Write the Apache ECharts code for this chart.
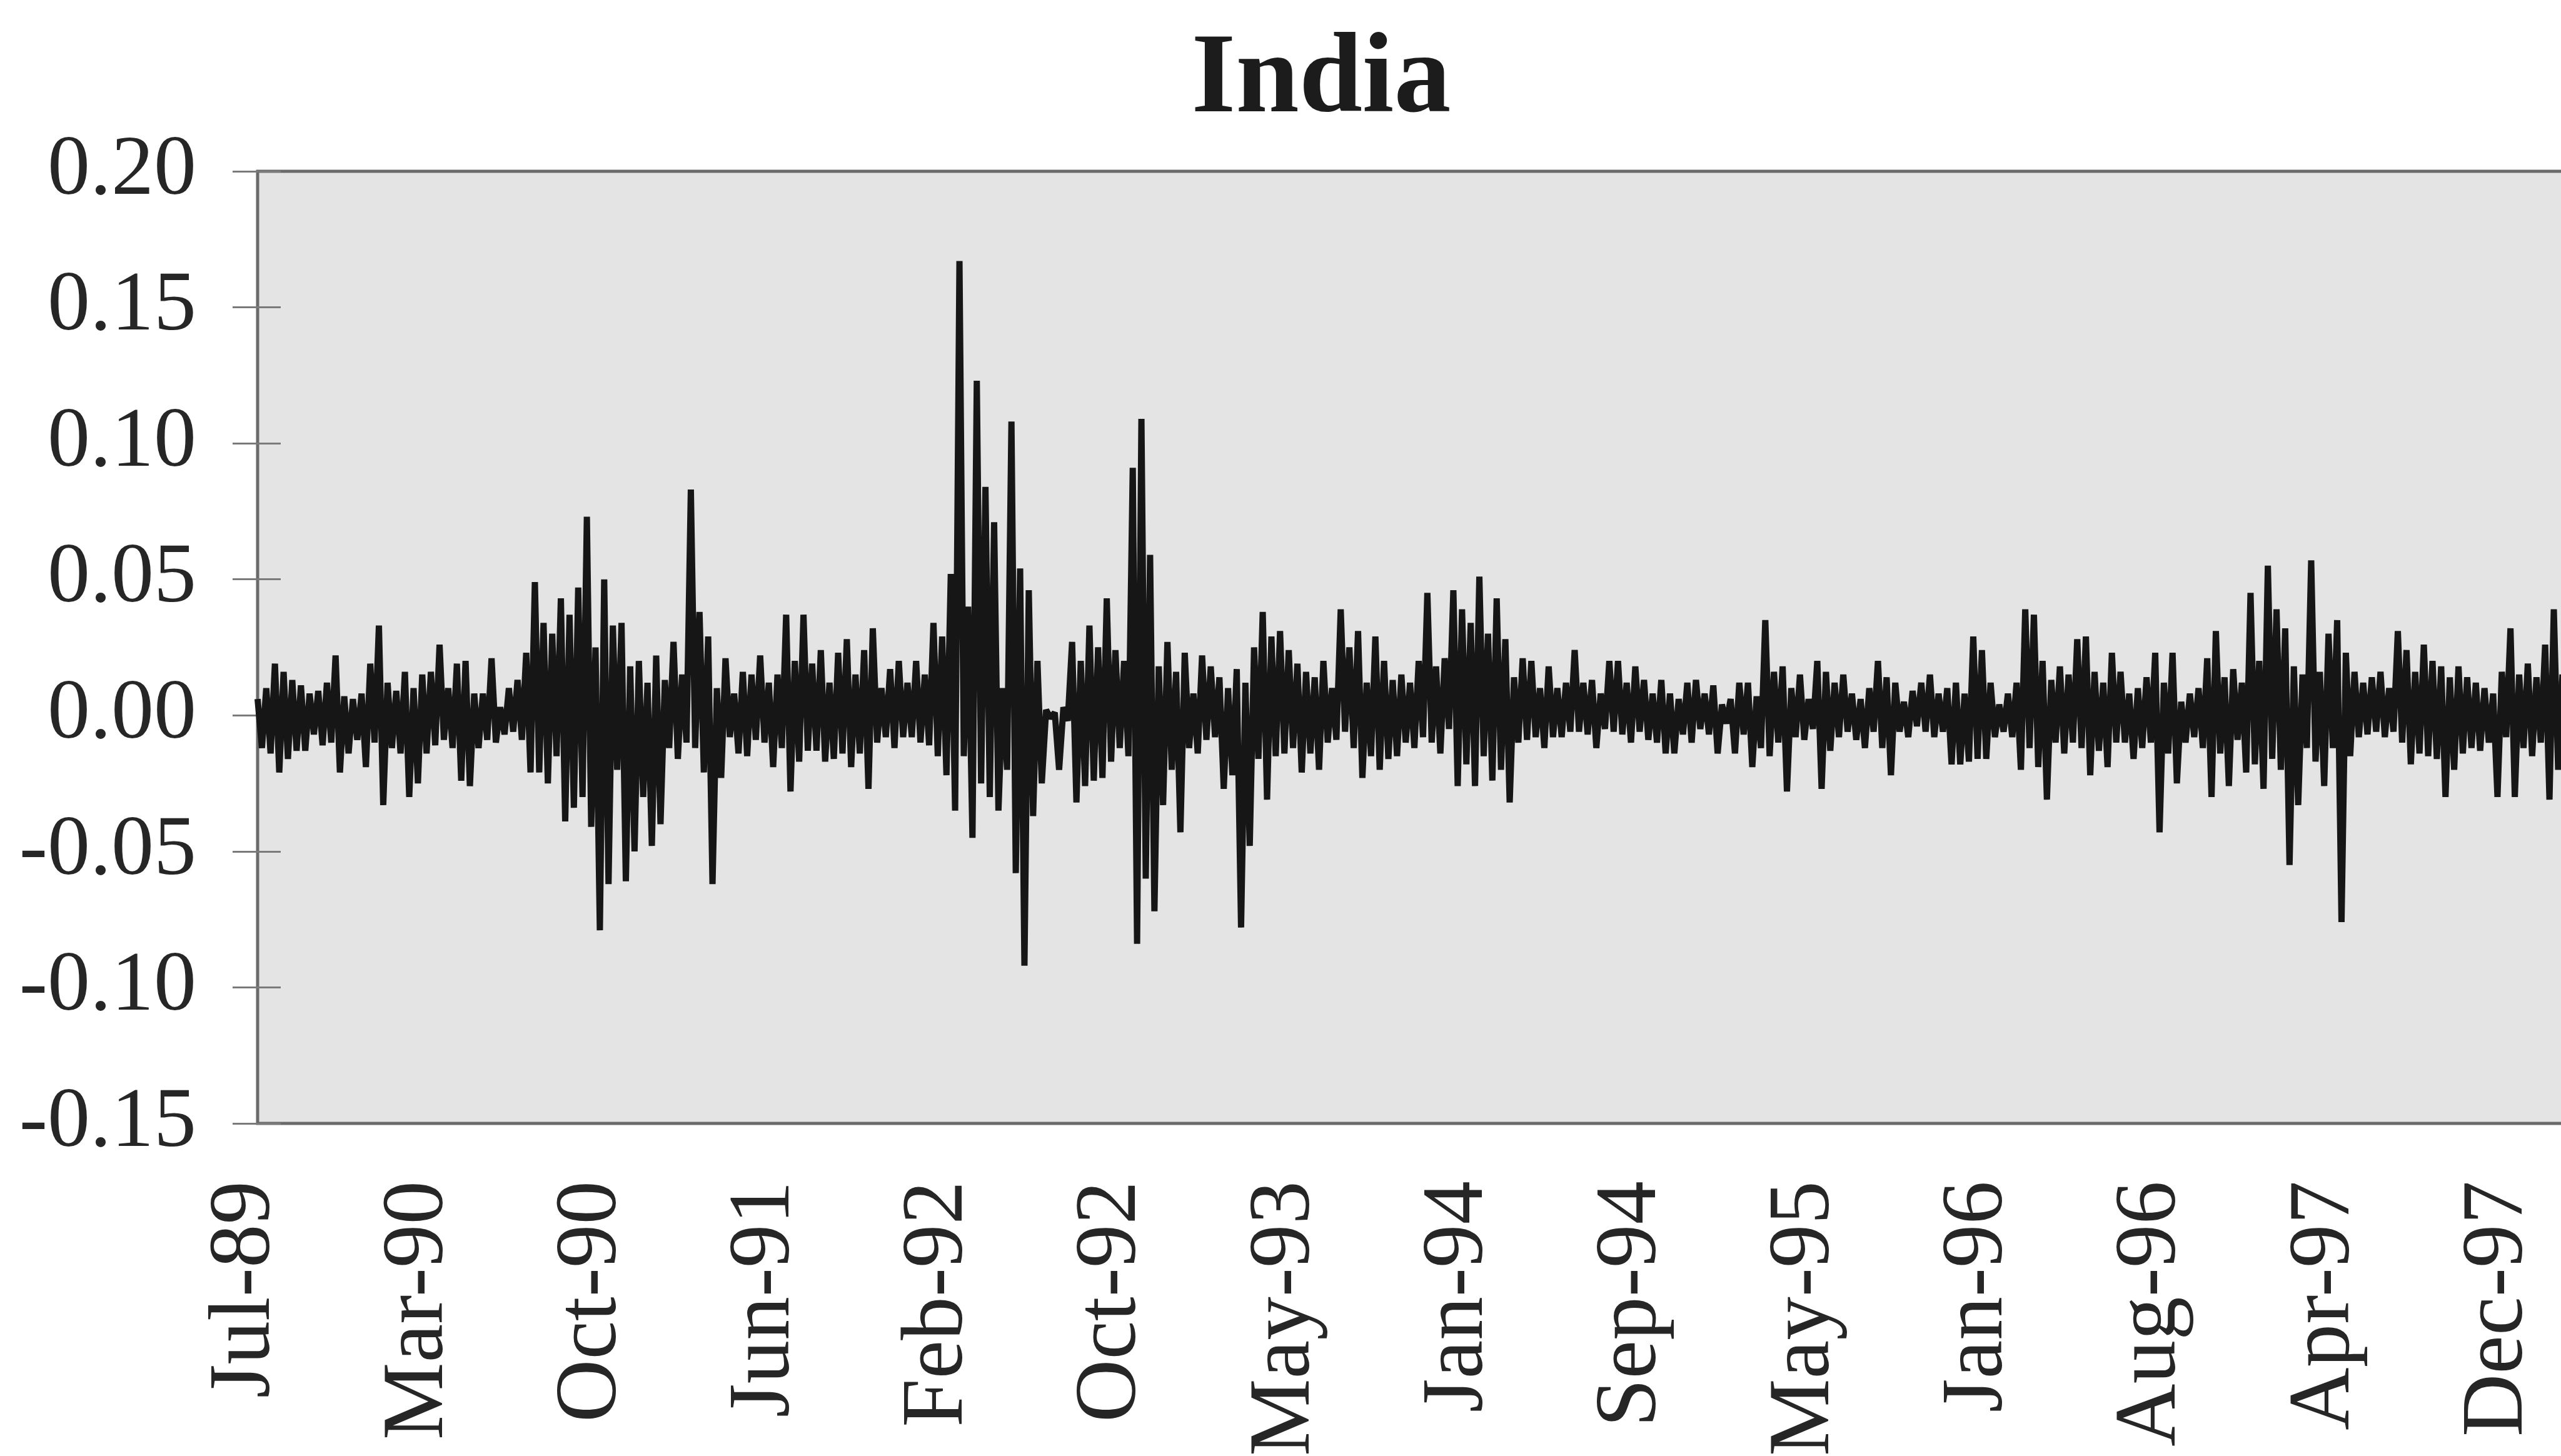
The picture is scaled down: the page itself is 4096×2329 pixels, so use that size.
<!DOCTYPE html>
<html>
<head>
<meta charset="utf-8">
<title>India</title>
<script src="https://cdn.jsdelivr.net/npm/echarts@6/dist/echarts.min.js"></script>
<style>
  html, body { margin: 0; padding: 0; background: #ffffff; }
  #chart { width: 4096px; height: 2329px; }
</style>
</head>
<body>
<div id="chart"></div>
<script>
// Date labels on the horizontal axis, one every 40 samples
const tickLabels = ['Jul-89', 'Mar-90', 'Oct-90', 'Jun-91', 'Feb-92', 'Oct-92', 'May-93',
                    'Jan-94', 'Sep-94', 'May-95', 'Jan-96', 'Aug-96', 'Apr-97', 'Dec-97'];
const samplesPerTick = 40;

// Daily returns, stored as alternating local highs and lows
const returnsJul89 = [
  0.006,-0.012, 0.010,-0.014, 0.019,-0.021, 0.016,-0.016, 0.013,-0.013, 0.011,-0.013, 0.008,-0.007, 0.009,-0.011, 0.012,-0.010, 0.022,-0.021,
  0.007,-0.014, 0.006,-0.009, 0.008,-0.019, 0.019,-0.010, 0.033,-0.033, 0.012,-0.012, 0.009,-0.014, 0.016,-0.030, 0.010,-0.025, 0.015,-0.014,
  0.016,-0.011, 0.026,-0.009, 0.010,-0.012, 0.019,-0.024, 0.020,-0.026, 0.008,-0.012, 0.008,-0.009, 0.021,-0.010, 0.003,-0.007, 0.010,-0.006,
  0.013,-0.009, 0.023,-0.021, 0.049,-0.021, 0.034,-0.025, 0.030,-0.015, 0.043,-0.039, 0.037,-0.034, 0.047,-0.030, 0.073,-0.041, 0.025,-0.079
];
const returnsOct90 = [
  0.050,-0.062, 0.033,-0.020, 0.034,-0.061, 0.018,-0.050, 0.020,-0.030, 0.012,-0.048, 0.022,-0.040, 0.013,-0.012, 0.027,-0.016, 0.015,-0.010,
  0.083,-0.012, 0.038,-0.021, 0.029,-0.062, 0.010,-0.023, 0.021,-0.008, 0.008,-0.014, 0.016,-0.015, 0.015,-0.009, 0.022,-0.010, 0.012,-0.019,
  0.015,-0.012, 0.037,-0.028, 0.020,-0.017, 0.037,-0.013, 0.019,-0.013, 0.024,-0.017, 0.012,-0.016, 0.023,-0.014, 0.028,-0.019, 0.015,-0.014,
  0.024,-0.027, 0.032,-0.010, 0.010,-0.008, 0.017,-0.012, 0.020,-0.008, 0.012,-0.008, 0.020,-0.010, 0.015,-0.011, 0.034,-0.015, 0.029,-0.022
];
const returnsFeb92 = [
  0.052,-0.035, 0.167,-0.015, 0.040,-0.045, 0.123,-0.025, 0.084,-0.030, 0.071,-0.035, 0.010,-0.020, 0.108,-0.058, 0.054,-0.092, 0.046,-0.037,
  0.020,-0.025, 0.002,-0.001, 0.001,-0.020, 0.003,-0.002, 0.027,-0.032, 0.020,-0.026, 0.033,-0.024, 0.025,-0.023, 0.043,-0.017, 0.024,-0.012,
  0.020,-0.015, 0.091,-0.084, 0.109,-0.060, 0.059,-0.072, 0.018,-0.033, 0.027,-0.020, 0.016,-0.043, 0.023,-0.012, 0.008,-0.014, 0.022,-0.009,
  0.018,-0.008, 0.014,-0.027, 0.010,-0.022, 0.017,-0.078, 0.012,-0.048, 0.025,-0.016, 0.038,-0.031, 0.029,-0.015, 0.031,-0.014, 0.024,-0.012
];
const returnsMay93 = [
  0.019,-0.021, 0.016,-0.014, 0.014,-0.020, 0.020,-0.010, 0.010,-0.009, 0.039,-0.006, 0.025,-0.012, 0.031,-0.023, 0.012,-0.015, 0.029,-0.020,
  0.020,-0.016, 0.013,-0.015, 0.015,-0.010, 0.012,-0.012, 0.020,-0.008, 0.045,-0.010, 0.018,-0.014, 0.021,-0.005, 0.046,-0.026, 0.039,-0.018,
  0.034,-0.026, 0.051,-0.015, 0.030,-0.024, 0.043,-0.020, 0.028,-0.032, 0.014,-0.010, 0.021,-0.009, 0.020,-0.008, 0.010,-0.012, 0.018,-0.008,
  0.010,-0.008, 0.012,-0.006, 0.024,-0.006, 0.012,-0.007, 0.013,-0.012, 0.008,-0.005, 0.020,-0.006, 0.020,-0.007, 0.012,-0.010, 0.018,-0.006
];
const returnsSep94 = [
  0.013,-0.009, 0.008,-0.010, 0.013,-0.014, 0.008,-0.014, 0.006,-0.007, 0.012,-0.010, 0.013,-0.005, 0.008,-0.007, 0.011,-0.014, 0.004,-0.003,
  0.006,-0.014, 0.012,-0.007, 0.012,-0.019, 0.007,-0.012, 0.035,-0.015, 0.016,-0.010, 0.018,-0.028, 0.010,-0.008, 0.015,-0.009, 0.006,-0.005,
  0.020,-0.027, 0.016,-0.013, 0.012,-0.008, 0.015,-0.006, 0.008,-0.009, 0.006,-0.012, 0.010,-0.006, 0.020,-0.012, 0.014,-0.022, 0.012,-0.006,
  0.005,-0.008, 0.009,-0.004, 0.012,-0.006, 0.015,-0.008, 0.008,-0.006, 0.010,-0.018, 0.012,-0.018, 0.008,-0.017, 0.029,-0.016, 0.024,-0.016
];
const returnsJan96 = [
  0.012,-0.008, 0.004,-0.006, 0.008,-0.008, 0.012,-0.020, 0.039,-0.012, 0.037,-0.019, 0.020,-0.031, 0.013,-0.010, 0.018,-0.014, 0.015,-0.010,
  0.028,-0.012, 0.029,-0.022, 0.016,-0.013, 0.012,-0.019, 0.023,-0.010, 0.016,-0.010, 0.008,-0.016, 0.010,-0.012, 0.014,-0.010, 0.023,-0.043,
  0.012,-0.014, 0.023,-0.025, 0.005,-0.010, 0.008,-0.008, 0.010,-0.012, 0.021,-0.030, 0.031,-0.014, 0.014,-0.026, 0.017,-0.009, 0.012,-0.021,
  0.045,-0.018, 0.020,-0.027, 0.055,-0.016, 0.039,-0.020, 0.032,-0.055, 0.018,-0.033, 0.015,-0.012, 0.057,-0.017, 0.016,-0.026, 0.030,-0.012
];
const returnsApr97 = [
  0.035,-0.076, 0.023,-0.015, 0.016,-0.008, 0.012,-0.007, 0.014,-0.006, 0.016,-0.008, 0.010,-0.006, 0.031,-0.010, 0.024,-0.018, 0.016,-0.014,
  0.026,-0.015, 0.020,-0.016, 0.018,-0.030, 0.014,-0.020, 0.018,-0.014, 0.014,-0.012, 0.012,-0.013, 0.010,-0.010, 0.008,-0.030, 0.016,-0.008,
  0.032,-0.030, 0.015,-0.012, 0.019,-0.015, 0.014,-0.010, 0.026,-0.031, 0.039,-0.020, 0.015,-0.012, 0.012,-0.010, 0.010,-0.012
];

const returns = [].concat(returnsJul89, returnsOct90, returnsFeb92, returnsMay93,
                          returnsSep94, returnsJan96, returnsApr97);

// One category per sample; only every 40th carries a date label
const categories = returns.map((_, i) =>
  i % samplesPerTick === 0 ? (tickLabels[i / samplesPerTick] || '') : '');

const serif = "'Liberation Serif', 'Times New Roman', Times, serif";
const textColor = '#262626';

// Plot frame; the date labels sit on a companion grid of equal width,
// set slightly to the left of the plotted samples
const plotLeft = 412, plotRight = -37, plotTop = 274, plotBottom = 532;
const labelShift = 19;

const chart = echarts.init(document.getElementById('chart'), null, { renderer: 'canvas' });

chart.setOption({
  animation: false,
  backgroundColor: '#ffffff',
  graphic: [{
    type: 'text',
    x: 2113,
    y: 131,
    silent: true,
    style: {
      text: 'India',
      fontFamily: serif,
      fontWeight: 'bold',
      fontSize: 182,
      fill: '#1c1c1c',
      align: 'center',
      verticalAlign: 'middle',
      textAlign: 'center',
      textVerticalAlign: 'middle'
    }
  }],
  grid: [{
    left: plotLeft,
    top: plotTop,
    right: plotRight,
    bottom: plotBottom,
    show: true,
    backgroundColor: '#e4e4e4',
    borderColor: '#6a6a6a',
    borderWidth: 5,
    containLabel: false,
    outerBoundsMode: 'none'
  }, {
    left: plotLeft - labelShift,
    top: plotTop,
    right: plotRight + labelShift,
    bottom: plotBottom,
    show: false,
    containLabel: false,
    outerBoundsMode: 'none'
  }],
  xAxis: [{
    type: 'category',
    gridIndex: 0,
    data: categories,
    boundaryGap: false,
    axisLine: { show: false },
    axisTick: { show: false },
    splitLine: { show: false },
    axisLabel: { show: false }
  }, {
    type: 'category',
    gridIndex: 1,
    data: categories,
    boundaryGap: false,
    axisLine: { show: false },
    axisTick: { show: false },
    splitLine: { show: false },
    axisLabel: {
      interval: samplesPerTick - 1,
      rotate: 90,
      margin: 92,
      fontFamily: serif,
      fontSize: 139,
      color: textColor
    }
  }],
  yAxis: [{
    type: 'value',
    gridIndex: 0,
    min: -0.15,
    max: 0.20,
    interval: 0.05,
    axisLine: { show: false },
    splitLine: { show: false },
    axisTick: { show: true, inside: false, length: 40, lineStyle: { color: '#7a7a7a', width: 3 } },
    axisLabel: {
      margin: 98,
      fontFamily: serif,
      fontSize: 136,
      color: textColor,
      formatter: v => v.toFixed(2)
    }
  }, {
    type: 'value',
    gridIndex: 0,
    min: -0.15,
    max: 0.20,
    interval: 0.05,
    position: 'left',
    axisLine: { show: false },
    splitLine: { show: false },
    axisLabel: { show: false },
    axisTick: { show: true, inside: true, length: 37, lineStyle: { color: '#7a7a7a', width: 3 } }
  }, {
    type: 'value',
    gridIndex: 1,
    min: -0.15,
    max: 0.20,
    interval: 0.05,
    show: false
  }],
  series: [{
    type: 'line',
    xAxisIndex: 0,
    yAxisIndex: 0,
    data: returns,
    symbol: 'none',
    showSymbol: false,
    silent: true,
    lineStyle: { color: '#161616', width: 10, join: 'bevel' }
  }]
});
</script>
</body>
</html>
